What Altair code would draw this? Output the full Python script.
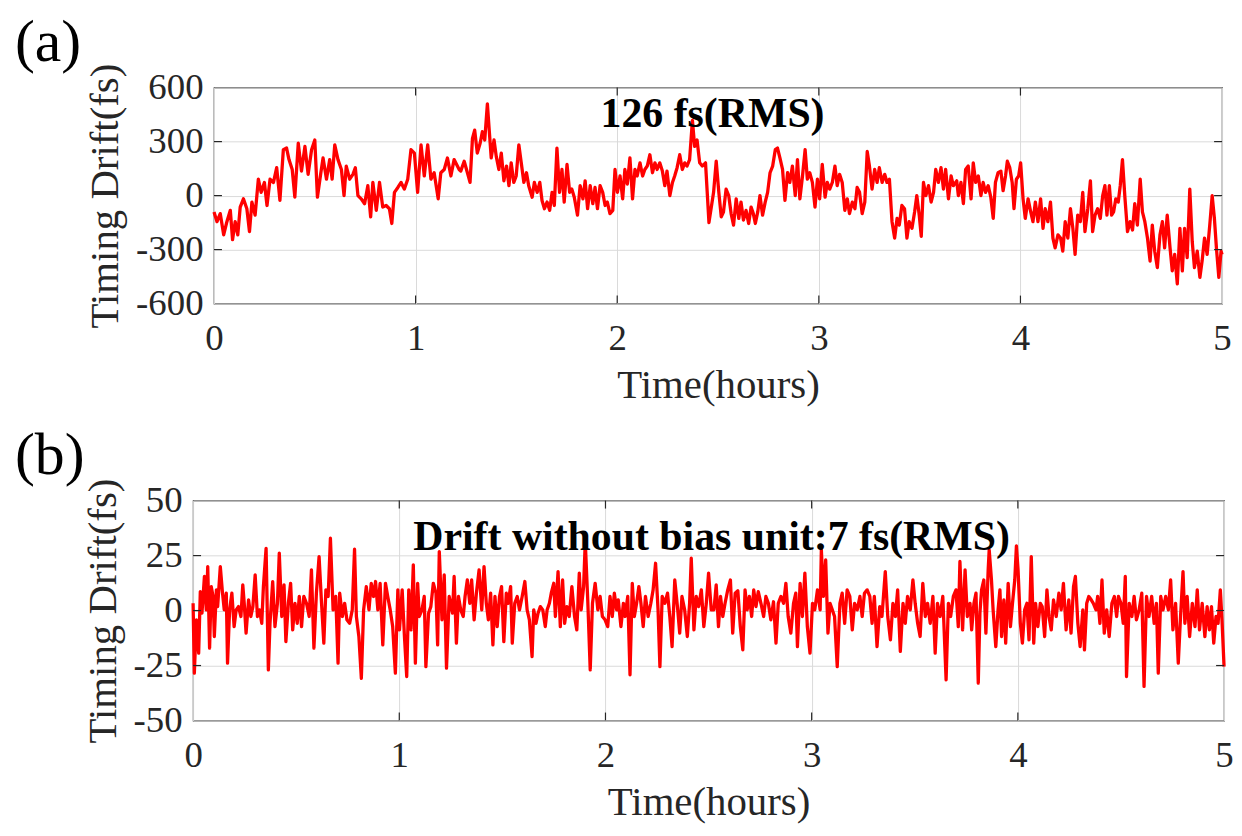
import altair as alt
import pandas as pd

FONT = "Liberation Serif"
INK = "#262626"
RED = "#ff0000"

panel_labels = ["(a)", "(b)"]
notes = ["126 fs(RMS)", "Drift without bias unit:7 fs(RMS)"]
x_title = "Time(hours)"
y_title = "Timing Drift(fs)"
x_ticks = [0, 1, 2, 3, 4, 5]
y_ticks_a = [-600, -300, 0, 300, 600]
y_ticks_b = [-50, -25, 0, 25, 50]

# ---------------- panel (a): timing drift, fs ----------------
time_a = [
    0.000, 0.015, 0.031, 0.048, 0.064, 0.081, 0.092, 0.105, 0.118, 0.130,
    0.146, 0.163, 0.176, 0.188, 0.204, 0.220, 0.234, 0.250, 0.263, 0.278,
    0.295, 0.311, 0.327, 0.344, 0.360, 0.372, 0.388, 0.401, 0.418, 0.434,
    0.451, 0.467, 0.484, 0.500, 0.513, 0.530, 0.541, 0.558, 0.574, 0.586,
    0.599, 0.615, 0.632, 0.645, 0.656, 0.673, 0.689, 0.701, 0.714, 0.730,
    0.747, 0.763, 0.777, 0.788, 0.805, 0.821, 0.837, 0.854, 0.870, 0.882,
    0.895, 0.912, 0.928, 0.944, 0.961, 0.977, 0.994, 1.010, 1.027, 1.043,
    1.060, 1.076, 1.092, 1.112, 1.125, 1.142, 1.158, 1.175, 1.191, 1.216,
    1.224, 1.241, 1.257, 1.270, 1.282, 1.293, 1.306, 1.320, 1.331, 1.343,
    1.356, 1.364, 1.375, 1.389, 1.400, 1.413, 1.425, 1.438, 1.451, 1.463,
    1.474, 1.487, 1.499, 1.512, 1.524, 1.537, 1.550, 1.561, 1.578, 1.589,
    1.603, 1.616, 1.627, 1.639, 1.652, 1.665, 1.677, 1.688, 1.701, 1.714,
    1.726, 1.737, 1.751, 1.764, 1.775, 1.787, 1.803, 1.816, 1.830, 1.841,
    1.853, 1.866, 1.879, 1.890, 1.902, 1.915, 1.928, 1.940, 1.951, 1.964,
    1.978, 1.989, 2.001, 2.014, 2.027, 2.038, 2.050, 2.063, 2.076, 2.088,
    2.099, 2.113, 2.126, 2.137, 2.149, 2.162, 2.175, 2.187, 2.198, 2.211,
    2.224, 2.236, 2.247, 2.261, 2.274, 2.285, 2.297, 2.310, 2.323, 2.335,
    2.346, 2.359, 2.373, 2.384, 2.396, 2.409, 2.422, 2.438, 2.455,
    2.478, 2.491, 2.504, 2.516, 2.527, 2.540, 2.553, 2.565, 2.577, 2.590,
    2.603, 2.614, 2.626, 2.639, 2.652, 2.664, 2.675, 2.685, 2.697, 2.708,
    2.721, 2.734, 2.746, 2.758, 2.771, 2.784, 2.795, 2.807, 2.820, 2.832,
    2.845, 2.856, 2.869, 2.883, 2.894, 2.906, 2.919, 2.932, 2.943, 2.955,
    2.968, 2.981, 2.993, 3.004, 3.017, 3.031, 3.042, 3.054, 3.067, 3.080,
    3.091, 3.103, 3.116, 3.129, 3.141, 3.152, 3.166, 3.179, 3.190, 3.202,
    3.215, 3.228, 3.240, 3.251, 3.264, 3.277, 3.289, 3.300, 3.314, 3.327,
    3.338, 3.350, 3.363, 3.376, 3.388, 3.399, 3.412, 3.425, 3.437, 3.448,
    3.462, 3.475, 3.486, 3.498, 3.508, 3.519, 3.531, 3.544, 3.557, 3.569,
    3.580, 3.593, 3.606, 3.618, 3.629, 3.643, 3.656, 3.667, 3.684,
    3.692, 3.705, 3.717, 3.728, 3.741, 3.755, 3.766, 3.778, 3.791, 3.804,
    3.815, 3.827, 3.840, 3.853, 3.865, 3.876, 3.889, 3.903, 3.914, 3.926,
    3.935, 3.947, 3.959, 3.968, 3.980, 3.991, 4.001, 4.013, 4.024, 4.038,
    4.051, 4.062, 4.074, 4.087, 4.100, 4.112, 4.123, 4.136, 4.149, 4.161,
    4.172, 4.186, 4.199, 4.210, 4.222, 4.235, 4.248, 4.260, 4.271, 4.284,
    4.297, 4.309, 4.320, 4.334, 4.347, 4.358, 4.370, 4.383, 4.396, 4.408,
    4.419, 4.429, 4.441, 4.452, 4.462, 4.473, 4.485, 4.495, 4.506, 4.518,
    4.531, 4.544, 4.556, 4.567, 4.580, 4.594, 4.605, 4.617, 4.630, 4.643,
    4.654, 4.666, 4.679, 4.692, 4.704, 4.715, 4.728, 4.742, 4.753, 4.765,
    4.778, 4.791, 4.803, 4.814, 4.827, 4.840, 4.852, 4.863, 4.877, 4.890,
    4.901, 4.913, 4.926, 4.939, 4.951, 4.962, 4.972, 4.984, 4.995, 5.000,
]
drift_a = [
    -91, -145, -100, -218, -145, -82, -245, -145, -218, -64,
    -18, -73, -200, -36, -109, 91, 18, 73, -55, 91,
    73, 155, -27, 255, 264, 200, 145, -9, 291, 136,
    273, 118, 255, 309, -9, 127, 209, 91, 200, 91,
    282, 200, 145, 0, 164, 91, 118, 155, 0, -18,
    -45, 55, -118, 73, -82, 73, -64, -55, -73, -155,
    18, 45, 73, 36, 91, 255, 236, 18, 282, 109,
    282, 91, 127, -18, 127, 145, 209, 109, 200, 145,
    136, 191, 127, 73, 318, 364, 236, 291, 355, 309,
    509, 382, 209, 309, 218, 145, 236, 82, 164, 55,
    182, 73, 109, 282, 182, 73, 127, 55, -9, 73,
    18, 73, -27, -73, -36, -82, 18, -55, 264, 18,
    145, -36, 173, 18, 36, -9, -109, 55, -18, 82,
    -73, 55, -45, 45, -73, 55, 18, -55, -36, -100,
    -82, 145, 18, 109, -18, 145, 64, 209, -18, 145,
    109, 182, 109, 145, 164, 227, 127, 182, 145, 182,
    136, 55, 136, 0, 73, 109, 155, 227, 145, 182,
    164, 200, 418, 273, 309, 182, 164, 182, -150,
    18, 191, 18, -118, -91, 36, 0, -100, -164, -18,
    -127, -36, -136, -82, -155, -64, -100, -155, -91, 0,
    -109, -36, 18, 127, 164, 255, 264, 209, 145, -27,
    127, 73, 164, 0, 200, -18, 109, 255, 91, 127,
    73, -64, 91, -18, 173, -9, 73, 36, 73, 164,
    55, 118, 73, -82, -18, -100, -36, -73, 45, 18,
    -100, -36, 245, 164, 36, 145, 73, 155, 73, 118,
    73, 91, -145, -236, -127, -164, -55, -73, -236, -145,
    -182, -91, 0, -109, -227, 73, 0, 55, -36, 18,
    145, 73, 155, 36, 145, -18, 109, 55, 82,
    0, 73, -45, 145, 164, -18, 182, 73, 109, 0,
    73, 18, 55, -9, -127, 73, 127, 136, 27, 109,
    191, 155, 73, -73, 91, 109, 182, -18, -127, -18,
    -91, -145, -36, -145, -18, -182, -73, -145, -36, -236,
    -291, -218, -236, -309, -145, -236, -73, -182, -327, -109,
    -145, 18, -200, -73, 82, -200, -109, -73, -127, 0,
    55, -109, 55, -109, -91, -18, -36, 55, 200, -9,
    -200, -145, -191, -45, -164, 91, -91, -145, -236, -364,
    -164, -309, -400, -218, -145, -291, -109, -291, -418, -327,
    -491, -182, -418, -182, -345, 36, -255, -400, -309, -455,
    -364, -236, -327, -164, 0, -127, -291, -455, -309, -327,
]

# ---------------- panel (b): drift without bias unit, fs ----------------
time_b = [
    0.000, 0.006, 0.016, 0.027, 0.035, 0.043, 0.055, 0.064, 0.071, 0.080,
    0.088, 0.097, 0.103, 0.113, 0.119, 0.132, 0.142, 0.151, 0.161, 0.167,
    0.177, 0.188, 0.199, 0.209, 0.220, 0.232, 0.241, 0.248, 0.257, 0.269,
    0.280, 0.290, 0.301, 0.312, 0.322, 0.333, 0.341, 0.354, 0.365, 0.373,
    0.386, 0.397, 0.409, 0.418, 0.430, 0.441, 0.450, 0.462, 0.473, 0.483,
    0.494, 0.505, 0.515, 0.526, 0.537, 0.550, 0.563, 0.574, 0.586, 0.598,
    0.611, 0.623, 0.634, 0.644, 0.655, 0.666, 0.679, 0.692, 0.703, 0.711,
    0.724, 0.735, 0.746, 0.759, 0.772, 0.783, 0.792, 0.804, 0.816, 0.827,
    0.840, 0.853, 0.864, 0.875, 0.885, 0.896, 0.907, 0.920, 0.933, 0.944,
    0.956, 0.968, 0.981, 0.993, 1.001, 1.014, 1.025, 1.036, 1.046, 1.057,
    1.068, 1.078, 1.089, 1.097, 1.110, 1.121, 1.129, 1.142, 1.153, 1.165,
    1.178, 1.186, 1.194, 1.207, 1.218, 1.229, 1.242, 1.258,
    1.266, 1.277, 1.287, 1.298, 1.310, 1.319, 1.330, 1.342, 1.351, 1.363,
    1.374, 1.387, 1.400, 1.411, 1.422, 1.432, 1.443, 1.454, 1.464, 1.475,
    1.486, 1.496, 1.507, 1.519, 1.528, 1.540, 1.548, 1.560, 1.572, 1.583,
    1.596, 1.609, 1.620, 1.631, 1.644, 1.652, 1.663, 1.673, 1.684, 1.696,
    1.708, 1.717, 1.728, 1.737, 1.749, 1.757, 1.770, 1.781, 1.792, 1.802,
    1.813, 1.824, 1.837, 1.850, 1.861, 1.873, 1.882, 1.894, 1.902, 1.914,
    1.926, 1.937, 1.950, 1.963, 1.974, 1.985, 1.998, 2.011, 2.022, 2.033,
    2.043, 2.054, 2.062, 2.075, 2.087, 2.095, 2.108, 2.119, 2.130, 2.140,
    2.151, 2.162, 2.172, 2.183, 2.194, 2.207, 2.220, 2.231, 2.243, 2.255,
    2.264, 2.275, 2.288, 2.301, 2.312, 2.323, 2.336, 2.349, 2.360, 2.371,
    2.384, 2.397, 2.408, 2.416, 2.429, 2.440, 2.452, 2.465, 2.477, 2.489,
    2.500, 2.513,
    2.526, 2.537, 2.548, 2.558, 2.569, 2.580, 2.593, 2.606, 2.617, 2.629,
    2.642, 2.654, 2.666, 2.677, 2.687, 2.698, 2.709, 2.719, 2.730, 2.741,
    2.754, 2.767, 2.778, 2.790, 2.802, 2.815, 2.827, 2.838, 2.851, 2.864,
    2.875, 2.886, 2.899, 2.912, 2.923, 2.931, 2.944, 2.955, 2.967, 2.979,
    2.992, 3.004, 3.015, 3.028, 3.041, 3.047, 3.057, 3.068, 3.079, 3.089,
    3.100, 3.111, 3.124, 3.137, 3.148, 3.160, 3.172, 3.185, 3.197, 3.208,
    3.221, 3.234, 3.245, 3.256, 3.269, 3.282, 3.293, 3.304, 3.317, 3.330,
    3.341, 3.357, 3.369, 3.382, 3.394, 3.406, 3.417, 3.430, 3.443, 3.454,
    3.465, 3.478, 3.491, 3.502, 3.514, 3.526, 3.539, 3.551, 3.562, 3.575,
    3.588, 3.599, 3.610, 3.623, 3.636, 3.652, 3.663, 3.674, 3.687, 3.700,
    3.711, 3.719, 3.732, 3.744, 3.755, 3.768,
    3.776, 3.787, 3.797, 3.808, 3.816, 3.824, 3.835, 3.845, 3.856, 3.861,
    3.872, 3.880, 3.893, 3.904, 3.913, 3.921, 3.932, 3.941, 3.953, 3.964,
    3.974, 3.985, 3.993, 4.001, 4.012, 4.022, 4.033, 4.044, 4.054, 4.065,
    4.077, 4.086, 4.097, 4.109, 4.118, 4.130, 4.141, 4.151, 4.162, 4.173,
    4.186, 4.199, 4.210, 4.221, 4.234, 4.247, 4.258, 4.270, 4.279, 4.291,
    4.302, 4.315, 4.323, 4.334, 4.344, 4.355, 4.366, 4.379, 4.387, 4.398,
    4.408, 4.419, 4.431, 4.443, 4.456, 4.468, 4.479, 4.488, 4.500, 4.511,
    4.521, 4.527, 4.540, 4.553, 4.564, 4.575, 4.588, 4.601, 4.612, 4.624,
    4.636, 4.649, 4.661, 4.672, 4.681, 4.693, 4.704, 4.717, 4.730, 4.741,
    4.752, 4.765, 4.778, 4.789, 4.801, 4.810, 4.821, 4.833, 4.846, 4.859,
    4.870, 4.881, 4.894, 4.907, 4.918, 4.929, 4.939, 4.950, 4.961, 4.971,
    4.982, 4.990, 5.000,
]
drift_b = [
    3.3, -28.5, -4.2, -19.4, 8.6, -1.2, 15.5, 0.3, 20, -17.1,
    10.9, 6.4, -11.8, 9.4, 1.8, 20, 8.6, 0.3, 7.9, -23.9,
    0.3, 7.9, -7.3, 0.3, 1.8, -2.7, 11.7, 3.3, -10.3, 4.8,
    -2.7, 1.8, 16.2, -2.7, 0.3, -5.8, 10.9, 28.3, -27, -5.8,
    13.2, -7.3, 3.3, 26.1, -2.7, 11.7, -14.1, 3.3, 12.4, -8.8,
    3.3, -5.8, 6.4, -7.3, 6.4, 3.3, -2.7, 18.5, -17.1, 7.9,
    24.5, 3.3, -14.8, 9.4, 6.4, 32.9, 0.3, 6.4, -23.9, 7.9,
    -2.7, 3.3, -4.2, -5.8, 0.3, 27.9, -2.7, -11.8, -30.8, 0.3,
    10.9, 0.3, 12.4, 6.4, 13.2, 0.3, 12.4, -15.6, 12.4, 6.4,
    0.3, -7.3, -28.5, 9.4, -8.8, 9.4, -11.8, -30, 9.4, -8.8,
    20.8, -23.9, 12.4, -2.7, 0.3, 6.4, -25.5, -1.2, 1.8, 12.4,
    7.9, -15.6, 26.8, -4.2, 16.2, -26.2, 6.4, -1.2,
    15.5, -14.8, 6.4, 0.3, -2.7, 6.4, 13.9, 3.3, 13.9, -4.2,
    7.9, 18.5, 0.3, 20, 3.3, -4.2, 7.9, -15.6, 6.4, -7.3,
    6.4, 10.9, -14.1, 7.9, 3.3, 10.9, -14.8, 3.3, 6.4, 0.3,
    6.4, 13.2, 0.3, -4.2, -20.9, 0.3, -5.8, -1.2, 1.8, 0.3,
    -7.3, 0.3, 3.3, 7.9, 12.4, -2.7, 17.7, -7.3, 13.9, -5.8,
    1.8, -2.7, 10.9, -2.7, -8.8, 17, 0.3, 10.9, 31.4, 4.8,
    -27, 3.3, 12.4, 0.3, 6.4, -2.7, -4.2, -7.3, 6.4, -2.7,
    7.9, 0.3, 4.8, -7.3, 3.3, -2.7, 6.4, -29.2, 12.4, -2.7,
    3.3, 10.9, 3.3, -7.3, 6.4, -2.7, 3.3, 9.4, 21.5, 0.3,
    -25.5, 6.4, 3.3, 7.9, -2.7, -16.4, 13.9, 1.8, -10.3, 6.4,
    0.3, -11.8, 3.3, 23.8, -8.8, 6.4, 1.8, 9.4, -7.3, 3.3,
    17, 0.3,
    0.3, 11.7, -7.3, 6.4, -2.7, 3.3, 9.4, 13.9, -10.3, 7.9,
    9, -7.3, -17.9, 9.4, 0.3, 6.4, -2.7, 9.4, 1.8, 8.6,
    3.3, -2.7, 6.4, 3.3, -4.2, 4, -14.8, 3.3, 6.4, 3.3,
    12.4, -2.7, -10.3, 3.3, 7.9, -16.4, 12.4, -2.7, 17, -7.3,
    -19.4, 3.3, 0.3, 9.4, 0.3, 27.6, 6.4, 23, -10.3, 3.3,
    0.3, -2.7, -25.5, 3.3, 7.9, -5.8, 9.4, 6.4, -8.8, 3.3,
    0.3, 6.4, -2.7, 7.9, 9.4, 6.4, -5.8, 6.4, -16.4, 1.8,
    -2.7, 17.7, -2.7, -13.3, 3.3, -2.7, 9.4, -18.6, 3.3, -5.8,
    6.4, 0.3, 13.9, 3.3, -5.8, -11.8, 12.4, -2.7, 3.3, -5.8,
    6.4, -19.4, 3.3, -2.7, 6.4, -31.5, 3.3, -2.7, 6.4, 9.4,
    -7.3, 22.3, -8.8, 18.5, -2.7, 3.3,
    -8.8, 3.3, 7.9, -33, -1.2, 9.4, 13.9, -10.3, 18.5, 27.6,
    13.9, 0.3, -16.4, 0.3, 9.4, -11.8, 4.8, -14.8, 12.4, -7.3,
    3.3, 13.9, 29.4, 18.5, -5.8, -14.8, 0.3, 3.3, -13.3, 24.5,
    -14.8, 3.3, -7.3, 3.3, 1.8, -11.8, 9.4, -2.7, -8.8, 4.8,
    -2.7, 7.9, 0.3, 12.4, -8.8, 4.8, -10.3, 10.9, 15.5, -5.8,
    -16.4, 0.3, -17.9, 3.3, 6.4, 5, 3.3, 0.3, 6.4, -5.8,
    13.9, -10.3, 0.3, -11.8, 3.3, 6.4, -2.7, 6.4, 3.3, -5.8,
    15.5, -30, 3.3, -2.7, 6.4, -4.2, 0.3, 7.9, -34.5, 6.4,
    -2.7, 6.4, -5.8, 3.3, -28.5, 6.4, 0.3, 6.4, 0.3, 13.9,
    -8.8, 3.3, -23.9, -2.7, 17.7, -5.8, 6.4, -11.8, 3.3, -7.3,
    9.4, -8.8, 3.3, -11.8, 1.8, -8.8, 1.8, -14.8, -2.7, -5.8,
    9.4, -4.2, -25.5,
]


def panel(times, drifts, yticks, label, note, w, h, label_x, label_y, note_x, note_y):
    df = pd.DataFrame(list(zip(times, drifts)), columns=["t", "v"])
    xs = alt.Scale(domain=[x_ticks[0], x_ticks[-1]], nice=False, zero=False)
    ys = alt.Scale(domain=[yticks[0], yticks[-1]], nice=False, zero=False)
    x_axis = alt.Axis(values=x_ticks, title=x_title, labelExpr="'' + datum.value",
                      labelFlush=False, labelOverlap=False, labelPadding=17, titlePadding=9)
    y_axis = alt.Axis(values=yticks, title=y_title, labelExpr="'' + datum.value",
                      labelOverlap=False, labelPadding=11, titlePadding=9)

    line = alt.Chart(df).mark_line(color=RED, strokeWidth=3.3, strokeJoin="round").encode(
        x=alt.X("t:Q", scale=xs, axis=x_axis),
        y=alt.Y("v:Q", scale=ys, axis=y_axis),
    )

    tx = pd.DataFrame({"t": x_ticks[1:-1]})
    ty = pd.DataFrame({"v": yticks[1:-1]})
    tick_style = dict(color=INK, strokeWidth=1.2)
    xb = alt.Chart(tx).mark_rule(**tick_style).encode(
        x=alt.X("t:Q", scale=xs, axis=x_axis), y=alt.value(h), y2=alt.value(h - 8))
    xt = alt.Chart(tx).mark_rule(**tick_style).encode(
        x=alt.X("t:Q", scale=xs, axis=x_axis), y=alt.value(0), y2=alt.value(8))
    yl = alt.Chart(ty).mark_rule(**tick_style).encode(
        y=alt.Y("v:Q", scale=ys, axis=y_axis), x=alt.value(0), x2=alt.value(8))
    yr = alt.Chart(ty).mark_rule(**tick_style).encode(
        y=alt.Y("v:Q", scale=ys, axis=y_axis), x=alt.value(w - 8), x2=alt.value(w))

    lab = alt.Chart(pd.DataFrame({"s": [label]})).mark_text(
        align="left", baseline="alphabetic", font=FONT, fontSize=60, color="black"
    ).encode(x=alt.value(label_x), y=alt.value(label_y), text="s:N")

    txt = alt.Chart(pd.DataFrame({"s": [note]})).mark_text(
        align="center", baseline="alphabetic", font=FONT, fontSize=42,
        fontWeight="bold", color="black"
    ).encode(x=alt.value(note_x), y=alt.value(note_y), text="s:N")

    return alt.layer(line, xb, xt, yl, yr, txt, lab).properties(width=w, height=h)


def spacer():
    return alt.Chart(pd.DataFrame({"s": [""]})).mark_text(opacity=0).encode(
        x=alt.value(0), y=alt.value(0), text="s:N"
    ).properties(width=1, height=1, view=alt.ViewBackground(stroke="transparent"))


pa = panel(time_a, drift_a, y_ticks_a, panel_labels[0], notes[0],
           1013, 217, -200, -27, 501, 40)
pb = panel(time_b, drift_b, y_ticks_b, panel_labels[1], notes[1],
           1036, 221, -179, -27, 521, 50)

row_a = alt.hconcat(spacer(), pa, spacing=0)
row_b = alt.hconcat(spacer(), pb, spacing=0)

chart = alt.vconcat(row_a, row_b, spacing=19).properties(
    padding={"left": 3, "top": 2, "right": 0, "bottom": 0}
).configure_view(
    stroke=INK, strokeWidth=1.2
).configure_axis(
    labelFont=FONT, titleFont=FONT, labelFontSize=37, titleFontSize=41,
    titleFontWeight="normal", labelColor=INK, titleColor=INK,
    gridColor="#dadada", gridWidth=1, domain=False, ticks=False, tickSize=0,
)

chart.save("out.html", embed_options={"renderer": "svg", "actions": False})
